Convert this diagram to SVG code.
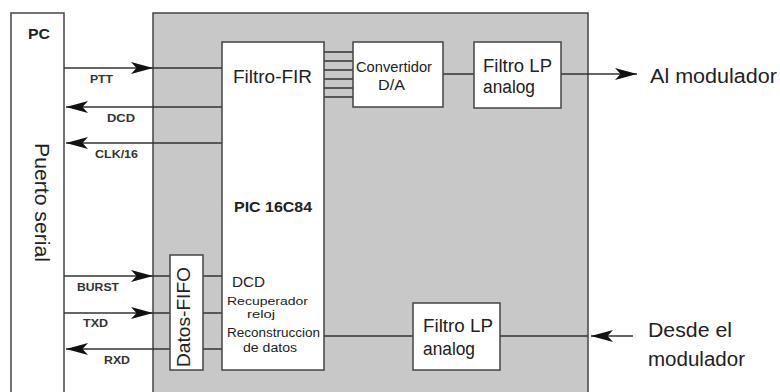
<svg xmlns="http://www.w3.org/2000/svg" width="780" height="392" viewBox="0 0 780 392">
<defs>
<style>
.box{fill:#fff;stroke:#444;stroke-width:1.5}
.ln{stroke:#333;stroke-width:1.5;fill:none}
.sig{font-family:"Liberation Sans",Arial,sans-serif;font-size:11px;font-weight:bold;fill:#333}
.t{font-family:"Liberation Sans",Arial,sans-serif;fill:#222}
</style>
<marker id="ah" viewBox="0 0 10 10" refX="10" refY="5" markerWidth="22" markerHeight="12" markerUnits="userSpaceOnUse" orient="auto" preserveAspectRatio="none">
<path d="M0,0 L10,5 L0,10 L2.5,5 z" fill="#111"/>
</marker>
</defs>
<rect width="780" height="392" fill="#fff"/>
<g id="pc">
<rect class="box" x="11" y="13" width="53" height="390"/>
<text class="t" x="28" y="39" font-size="14" font-weight="bold" textLength="22" lengthAdjust="spacingAndGlyphs">PC</text>
<text class="t" transform="translate(35,143) rotate(90)" font-size="20" textLength="119" lengthAdjust="spacingAndGlyphs" fill="#1a2060">Puerto serial</text>
</g>
<g id="board">
<rect x="153" y="13" width="435" height="390" fill="#c8c8c8" stroke="#444" stroke-width="1.5"/>
</g>
<g id="connectors">
<line class="ln" x1="64" y1="68" x2="153" y2="68" marker-end="url(#ah)"/>
<line class="ln" x1="153" y1="68" x2="222" y2="68"/>
<line class="ln" x1="222" y1="107" x2="66" y2="107" marker-end="url(#ah)"/>
<line class="ln" x1="222" y1="143" x2="66" y2="143" marker-end="url(#ah)"/>
<line class="ln" x1="64" y1="276" x2="153" y2="276" marker-end="url(#ah)"/>
<line class="ln" x1="153" y1="276" x2="170" y2="276"/>
<line class="ln" x1="64" y1="313" x2="153" y2="313" marker-end="url(#ah)"/>
<line class="ln" x1="153" y1="313" x2="170" y2="313"/>
<line class="ln" x1="170" y1="349" x2="66" y2="349" marker-end="url(#ah)"/>
<line class="ln" x1="203" y1="276" x2="222" y2="276"/>
<line class="ln" x1="203" y1="313" x2="222" y2="313"/>
<line class="ln" x1="203" y1="349" x2="222" y2="349"/>
<g class="ln">
<line x1="324" y1="52" x2="353" y2="52"/>
<line x1="324" y1="61" x2="353" y2="61"/>
<line x1="324" y1="70" x2="353" y2="70"/>
<line x1="324" y1="79" x2="353" y2="79"/>
<line x1="324" y1="88" x2="353" y2="88"/>
<line x1="324" y1="97" x2="353" y2="97"/>
</g>
<line class="ln" x1="443" y1="74" x2="474" y2="74"/>
<line class="ln" x1="561" y1="74" x2="637" y2="74" marker-end="url(#ah)"/>
<line class="ln" x1="324" y1="336" x2="413" y2="336"/>
<line class="ln" x1="500" y1="336" x2="588" y2="336"/>
<line class="ln" x1="633" y1="336" x2="591" y2="336" marker-end="url(#ah)"/>
<text class="sig" x="90" y="83" textLength="23" lengthAdjust="spacingAndGlyphs">PTT</text>
<text class="sig" x="107" y="122" textLength="28" lengthAdjust="spacingAndGlyphs">DCD</text>
<text class="sig" x="95" y="158" textLength="43" lengthAdjust="spacingAndGlyphs">CLK/16</text>
<text class="sig" x="77" y="291" textLength="42" lengthAdjust="spacingAndGlyphs">BURST</text>
<text class="sig" x="83" y="327" textLength="25" lengthAdjust="spacingAndGlyphs">TXD</text>
<text class="sig" x="104" y="364" textLength="26" lengthAdjust="spacingAndGlyphs">RXD</text>
</g>
<g id="pic">
<rect class="box" x="222" y="42" width="102" height="328"/>
<text class="t" x="233" y="83" font-size="18" textLength="79" lengthAdjust="spacingAndGlyphs">Filtro-FIR</text>
<text class="t" x="234" y="212" font-size="14" font-weight="bold" textLength="78" lengthAdjust="spacingAndGlyphs">PIC 16C84</text>
<text class="t" x="232" y="287" font-size="15" textLength="33" lengthAdjust="spacingAndGlyphs">DCD</text>
<text class="t" x="227" y="305" font-size="11" textLength="81" lengthAdjust="spacingAndGlyphs">Recuperador</text>
<text class="t" x="247" y="318" font-size="11" textLength="28" lengthAdjust="spacingAndGlyphs">reloj</text>
<text class="t" x="227" y="337" font-size="12" textLength="93" lengthAdjust="spacingAndGlyphs">Reconstruccion</text>
<text class="t" x="243" y="352" font-size="12" textLength="54" lengthAdjust="spacingAndGlyphs">de datos</text>
</g>
<g id="fifo">
<rect class="box" x="170" y="255" width="33" height="115"/>
<text class="t" transform="translate(190,367) rotate(-90)" font-size="19" textLength="100" lengthAdjust="spacingAndGlyphs">Datos-FIFO</text>
</g>
<g id="dac">
<rect class="box" x="353" y="42" width="90" height="65"/>
<text class="t" x="356" y="72" font-size="15" textLength="76" lengthAdjust="spacingAndGlyphs">Convertidor</text>
<text class="t" x="378" y="90" font-size="15" textLength="27" lengthAdjust="spacingAndGlyphs">D/A</text>
</g>
<g id="lp-tx">
<rect class="box" x="474" y="42" width="87" height="66"/>
<text class="t" x="483" y="72" font-size="18" textLength="69" lengthAdjust="spacingAndGlyphs">Filtro LP</text>
<text class="t" x="483" y="93" font-size="18" textLength="52" lengthAdjust="spacingAndGlyphs">analog</text>
</g>
<g id="lp-rx">
<rect class="box" x="413" y="303" width="87" height="67"/>
<text class="t" x="423" y="332" font-size="18" textLength="70" lengthAdjust="spacingAndGlyphs">Filtro LP</text>
<text class="t" x="423" y="355" font-size="18" textLength="52" lengthAdjust="spacingAndGlyphs">analog</text>
</g>
<g id="labels">
<text class="t" x="650" y="83" font-size="20" textLength="127" lengthAdjust="spacingAndGlyphs">Al modulador</text>
<text class="t" x="648" y="337" font-size="20" textLength="84" lengthAdjust="spacingAndGlyphs">Desde el</text>
<text class="t" x="648" y="366" font-size="20" textLength="97" lengthAdjust="spacingAndGlyphs">modulador</text>
</g>
</svg>
